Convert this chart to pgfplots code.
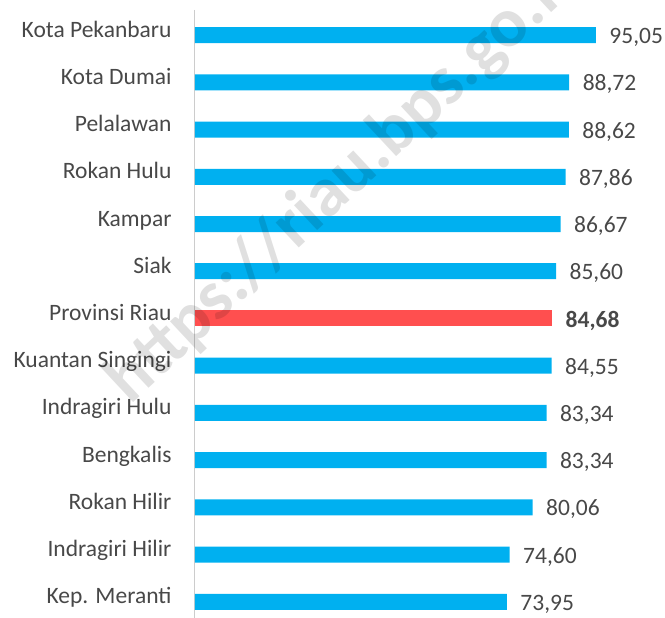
\documentclass[border=0pt]{standalone}
\usepackage{pgfplots}
\pgfplotsset{compat=1.18}
\usepackage{fontspec}
\setmainfont{Carlito}
\definecolor{barblue}{HTML}{00B0F0}
\definecolor{barred}{HTML}{FF4F4F}
\definecolor{txt}{HTML}{484848}

\begin{document}
\begin{tikzpicture}
\begin{axis}[
    name=ax,
    xbar, bar width=16pt, bar shift=0pt,
    width=464pt, height=608pt, scale only axis,
    xmin=0, xmax=110,
    ymin=-0.53, ymax=12.34, y dir=reverse,
    ytick={0,...,12},
    yticklabels={Kota Pekanbaru, Kota Dumai, Pelalawan, Rokan Hulu, Kampar, Siak,
      Provinsi Riau, Kuantan Singingi, Indragiri Hulu, Bengkalis, Rokan Hilir,
      Indragiri Hilir, Kep. Meranti},
    yticklabel style={font=\fontsize{23.5}{28}\selectfont, text=txt,
      anchor=base east, xshift=-20pt, yshift=-2pt},
    major tick length=0pt,
    axis x line=none,
    axis y line*=left,
    y axis line style={draw=gray!40, line width=1pt, -},
    clip=false,
    nodes near coords,
    every node near coord/.append style={font=\fontsize{23.5}{28}\selectfont, text=txt,
      anchor=west, xshift=10pt, yshift=-2pt},
    point meta=explicit,
    /pgf/number format/.cd, assume math mode=true, use comma, fixed, fixed zerofill, precision=2,
]
\addplot[fill=barblue, draw=none] coordinates {
    (95.05,0) [95.05] (88.72,1) [88.72] (88.62,2) [88.62] (87.86,3) [87.86]
    (86.67,4) [86.67] (85.60,5) [85.60] (84.55,7) [84.55] (83.34,8) [83.34]
    (83.34,9) [83.34] (80.06,10) [80.06] (74.60,11) [74.60] (73.95,12) [73.95]
};
\addplot[fill=barred, draw=none,
    every node near coord/.append style={font=\fontsize{23.5}{28}\selectfont\bfseries}]
    coordinates {(84.68,6) [84.68]};
\node[rotate=43, anchor=base west, text=black, text opacity=0.12,
    font=\fontsize{70}{80}\selectfont\bfseries] at (axis cs:-16,7.9) {https://riau.bps.go.id};
\end{axis}
\pgfresetboundingbox
\path (ax.south west) +(-195pt,0pt) rectangle +(470pt,618pt);
\end{tikzpicture}
\end{document}
